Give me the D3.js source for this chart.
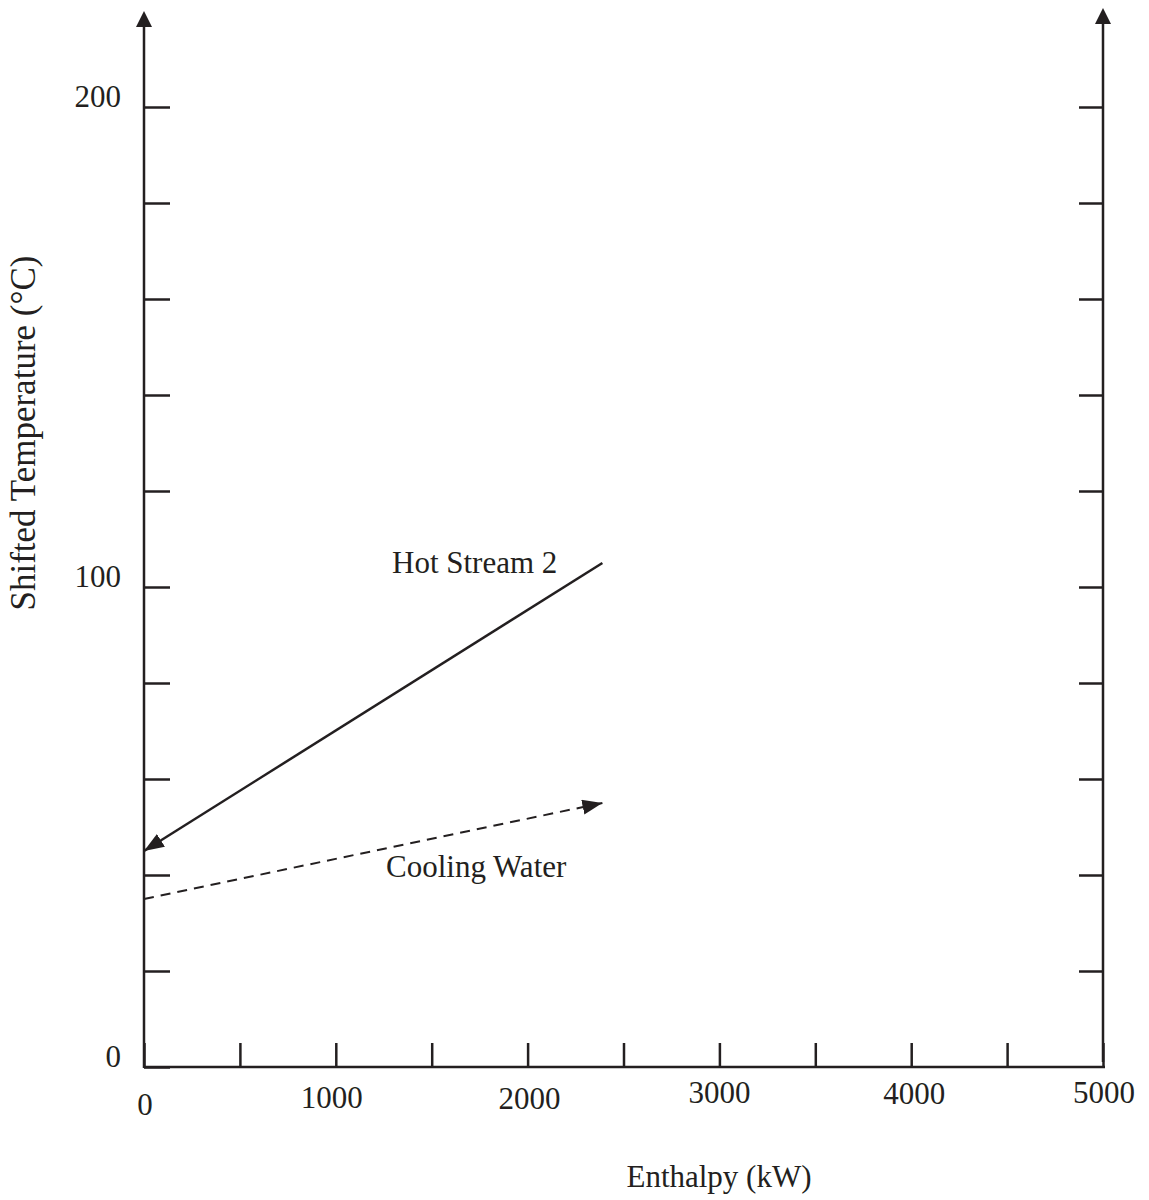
<!DOCTYPE html>
<html>
<head>
    <meta charset="utf-8">
    <title>Shifted temperature vs enthalpy</title>
    <script src="https://d3js.org/d3.v7.min.js"></script>
    <style>
      body { margin: 0; background: #fff; }
      text {
        font-family: "Liberation Serif", "Times New Roman", serif;
        fill: #231f20;
      }
      .tick line { stroke: #231f20; stroke-width: 2.5; }
    </style>
</head>
<body>
  <div id="chart"></div>

  <script>
    // chart data
    var xTicks = [0, 500, 1000, 1500, 2000, 2500, 3000, 3500, 4000, 4500, 5000];
    var xTickLabels = [0, 1000, 2000, 3000, 4000, 5000];
    var yTicks = [0, 20, 40, 60, 80, 100, 120, 140, 160, 180, 200];
    var yTickLabels = [0, 100, 200];
    var hotStream = [{ h: 2390, t: 105 }, { h: 0, t: 45 }];
    var coolingWater = [{ h: 0, t: 35 }, { h: 2390, t: 55 }];
    var seriesNames = ["Hot Stream 2", "Cooling Water"];
    var xTitle = "Enthalpy (kW)";
    var yTitle = "Shifted Temperature (\u00B0C)";

    var width = 1149, height = 1200;
    var ink = "#231f20";

    // the x labels in the original sit a little unevenly
    var xLabelShift = [[1, 1115], [-4, 1108], [2, 1109], [0, 1103], [3, 1104], [1, 1103]];

    var x = d3.scaleLinear().domain([0, 5000]).range([144, 1103]);
    var y = d3.scaleLinear().domain([0, 200]).range([1067, 107]);

    var svg = d3.select("#chart")
        .append("svg")
        .attr("width", width)
        .attr("height", height);

    var defs = svg.append("defs");
    defs.append("marker")
        .attr("id", "head")
        .attr("markerUnits", "userSpaceOnUse")
        .attr("markerWidth", 22)
        .attr("markerHeight", 16)
        .attr("refX", 20)
        .attr("refY", 7.5)
        .attr("orient", "auto")
      .append("path")
        .attr("d", "M0,0 L20,7.5 L0,15 Z")
        .attr("fill", ink);

    // tick marks, drawn with d3 axes, domain lines removed
    svg.append("g")
        .attr("transform", "translate(0," + y(0) + ")")
        .call(d3.axisBottom(x).tickValues(xTicks).tickSizeInner(-24).tickSizeOuter(0).tickFormat(""))
        .call(function(g) { g.select(".domain").remove(); });

    svg.append("g")
        .attr("transform", "translate(" + x(0) + ",0)")
        .call(d3.axisRight(y).tickValues(yTicks).tickSizeInner(26).tickSizeOuter(0).tickFormat(""))
        .call(function(g) { g.select(".domain").remove(); });

    svg.append("g")
        .attr("transform", "translate(" + x(5000) + ",0)")
        .call(d3.axisLeft(y).tickValues(yTicks.filter(function(d) { return d > 0; }))
            .tickSizeInner(24).tickSizeOuter(0).tickFormat(""))
        .call(function(g) { g.select(".domain").remove(); });

    // axis lines with arrow tips
    var axes = svg.append("g").attr("stroke", ink).attr("stroke-width", 2.5);
    axes.append("line").attr("x1", x(0)).attr("x2", x(5000) + 2).attr("y1", y(0)).attr("y2", y(0));
    axes.append("line").attr("x1", x(0)).attr("x2", x(0)).attr("y1", y(0) + 1).attr("y2", 26);
    axes.append("line").attr("x1", x(5000)).attr("x2", x(5000)).attr("y1", y(0) - 5).attr("y2", 23);

    svg.append("path")
        .attr("d", "M" + (x(0) - 8) + ",27 L" + x(0) + ",11 L" + (x(0) + 8) + ",27 Z")
        .attr("fill", ink);
    svg.append("path")
        .attr("d", "M" + (x(5000) - 8) + ",24 L" + x(5000) + ",8 L" + (x(5000) + 8) + ",24 Z")
        .attr("fill", ink);

    // tick labels
    svg.selectAll(".xlab")
        .data(xTickLabels)
        .enter().append("text")
        .attr("class", "xlab")
        .attr("x", function(d, i) { return x(d) + xLabelShift[i][0]; })
        .attr("y", function(d, i) { return xLabelShift[i][1]; })
        .attr("text-anchor", "middle")
        .style("font-size", "31px")
        .text(function(d) { return d; });

    svg.selectAll(".ylab")
        .data(yTickLabels)
        .enter().append("text")
        .attr("class", "ylab")
        .attr("x", 121)
        .attr("y", function(d) { return y(d); })
        .attr("text-anchor", "end")
        .style("font-size", "31px")
        .text(function(d) { return d; });

    // streams
    var line = d3.line()
        .x(function(d) { return x(d.h); })
        .y(function(d) { return y(d.t); });

    svg.append("path")
        .datum(hotStream)
        .attr("d", line)
        .attr("fill", "none")
        .attr("stroke", ink)
        .attr("stroke-width", 2.5)
        .attr("marker-end", "url(#head)");

    svg.append("path")
        .datum(coolingWater)
        .attr("d", line)
        .attr("fill", "none")
        .attr("stroke", ink)
        .attr("stroke-width", 2)
        .attr("stroke-dasharray", "10,7")
        .attr("marker-end", "url(#head)");

    svg.append("text")
        .attr("x", 392).attr("y", 573)
        .style("font-size", "31px")
        .text(seriesNames[0]);

    svg.append("text")
        .attr("x", 386).attr("y", 877)
        .style("font-size", "31px")
        .text(seriesNames[1]);

    // axis titles
    svg.append("text")
        .attr("x", 719).attr("y", 1187)
        .attr("text-anchor", "middle")
        .style("font-size", "31px")
        .text(xTitle);

    svg.append("text")
        .attr("transform", "translate(35,433) rotate(-90)")
        .attr("text-anchor", "middle")
        .style("font-size", "35px")
        .text(yTitle);
  </script>
</body>
</html>
